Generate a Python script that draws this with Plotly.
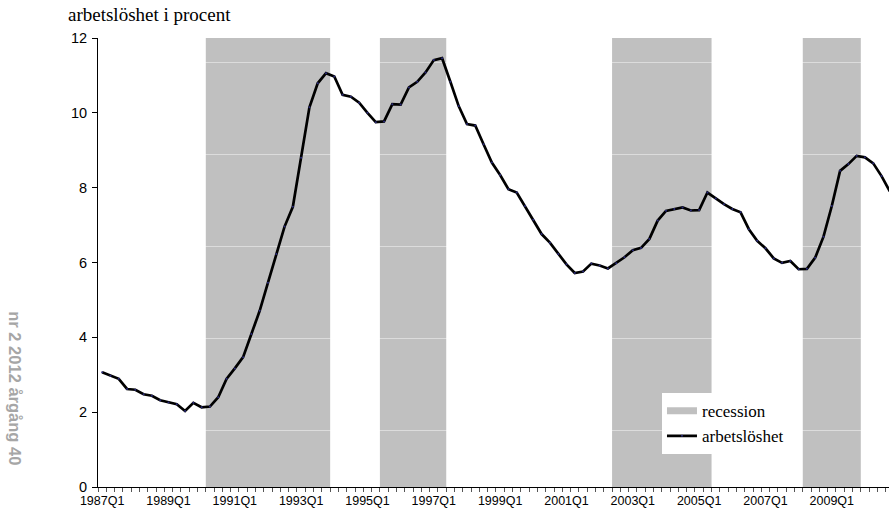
import plotly.graph_objects as go

# ---- data ----
quarters = [f"{y}Q{q}" for y in range(1987, 2011) for q in (1, 2, 3, 4)]

unemployment = [
    3.07, 2.97, 2.89, 2.62, 2.60, 2.48, 2.44, 2.32, 2.26, 2.21, 2.03, 2.25,
    2.13, 2.15, 2.40, 2.89, 3.17, 3.47, 4.09, 4.71, 5.46, 6.23, 6.96, 7.49,
    8.80, 10.15, 10.79, 11.06, 10.97, 10.48, 10.43, 10.27, 10.00, 9.75, 9.77, 10.23,
    10.22, 10.68, 10.83, 11.08, 11.41, 11.46, 10.83, 10.18, 9.70, 9.66, 9.16, 8.67,
    8.34, 7.96, 7.87, 7.51, 7.14, 6.76, 6.53, 6.23, 5.95, 5.72, 5.76, 5.97,
    5.92, 5.84, 5.98, 6.14, 6.33, 6.39, 6.63, 7.12, 7.38, 7.43, 7.47, 7.39,
    7.40, 7.87, 7.71, 7.56, 7.43, 7.34, 6.89, 6.58, 6.38, 6.11, 5.99, 6.04,
    5.82, 5.83, 6.13, 6.69, 7.51, 8.45, 8.63, 8.85, 8.81, 8.65, 8.31, 7.90,
]

recession_periods = [
    ("1990Q2", "1993Q4"),
    ("1995Q3", "1997Q2"),
    ("2002Q3", "2005Q2"),
    ("2008Q2", "2009Q4"),
]

tick_labels = ["1987Q1", "1989Q1", "1991Q1", "1993Q1", "1995Q1", "1997Q1",
               "1999Q1", "2001Q1", "2003Q1", "2005Q1", "2007Q1", "2009Q1"]

y_ticks = [0, 2, 4, 6, 8, 10, 12]
y_max = 12

title_text = "arbetslöshet i procent"
side_text = "nr 2 2012 årgång 40"

# ---- positions derived from categories ----
idx = {q: i for i, q in enumerate(quarters)}
x_pos = [i + 0.5 for i in range(len(quarters))]

fig = go.Figure()

# legend entry for recession bands (flat grey bar swatch)
fig.add_trace(go.Scatter(
    x=[None], y=[None], name="recession", mode="lines",
    line=dict(color="#c0c0c0", width=7),
    showlegend=True,
))

fig.add_trace(go.Scatter(
    x=x_pos, y=unemployment, name="arbetslöshet",
    mode="lines+markers",
    line=dict(color="black", width=2.7),
    marker=dict(size=2, color="#2b2b7a"),
))

for start, end in recession_periods:
    fig.add_shape(
        type="rect", xref="x", yref="y",
        x0=idx[start], x1=idx[end] + 1, y0=0, y1=y_max,
        fillcolor="#c0c0c0", line=dict(width=0), layer="below",
    )

fig.update_layout(
    width=889, height=513,
    margin=dict(l=98, r=0, t=38, b=26, autoexpand=False),
    paper_bgcolor="white", plot_bgcolor="white",
    showlegend=True,
    legend=dict(
        x=0.713, y=0.209, xanchor="left", yanchor="top",
        bgcolor="white", borderwidth=0,
        font=dict(family="Liberation Serif", size=17, color="black"),
        traceorder="normal", tracegroupgap=0, itemwidth=30,
    ),
    font=dict(family="Liberation Sans", size=12.5, color="black"),
)

fig.update_xaxes(
    automargin=False,
    range=[0, 95.4],
    tickmode="array",
    tickvals=[idx[t] + 0.5 for t in tick_labels],
    ticktext=tick_labels,
    ticks="", showgrid=False, zeroline=False,
    showline=True, linecolor="black", linewidth=1,
    tickfont=dict(family="Liberation Sans", size=12.5, color="black"),
    ticklabelstandoff=2,
    minor=dict(tickmode="linear", tick0=0, dtick=1, ticks="outside",
               ticklen=4, tickcolor="#555555", tickwidth=1, showgrid=False),
)

fig.update_yaxes(
    automargin=False,
    range=[0, y_max],
    tickmode="array", tickvals=y_ticks,
    ticks="outside", ticklen=5, tickcolor="black",
    showgrid=False, zeroline=False,
    showline=True, linecolor="black", linewidth=1,
    tickfont=dict(family="Liberation Sans", size=14.5, color="black"),
    ticklabelstandoff=2,
    minor=dict(tickmode="linear", tick0=1.523, dtick=2.458, ticks="",
               showgrid=True, gridcolor="rgba(255,255,255,0.45)", gridwidth=1),
)

fig.add_annotation(
    text=title_text, xref="paper", yref="paper",
    x=-0.041, y=1.053, xanchor="left", yanchor="middle", showarrow=False,
    font=dict(family="Liberation Serif", size=19, color="black"),
)

fig.add_annotation(
    text=f"<b>{side_text}</b>", xref="paper", yref="paper",
    x=-0.105, y=0.22, xanchor="center", yanchor="middle", showarrow=False,
    textangle=90,
    font=dict(family="Liberation Sans", size=16.5, color="#a6a6a6"),
)

fig.write_html(
    "out.html",
    config={"displayModeBar": False},
    post_script="document.body.style.margin='0';document.body.style.overflow='hidden';",
)
